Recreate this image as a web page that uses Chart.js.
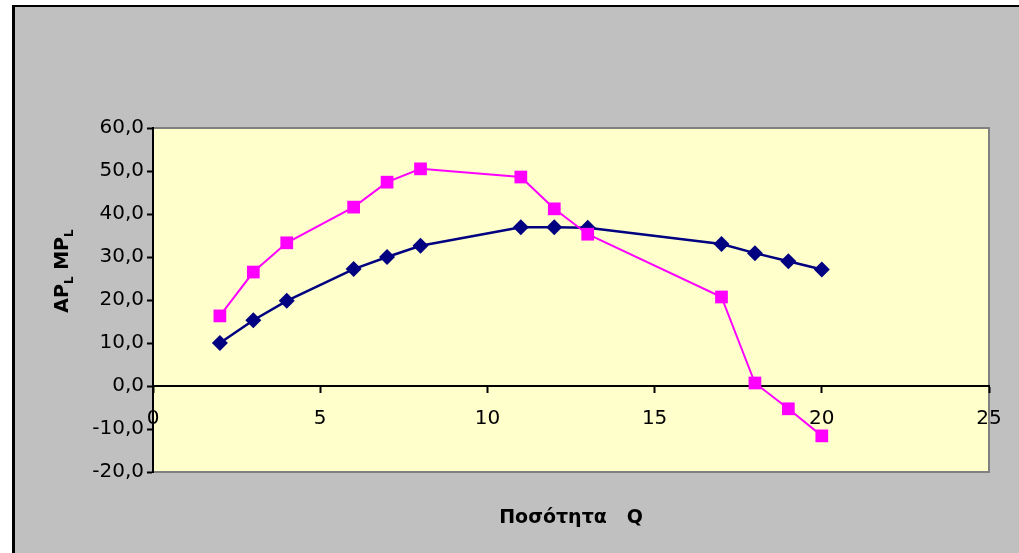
<!DOCTYPE html>
<html>
<head>
<meta charset="utf-8">
<title>AP / MP</title>
<script src="https://cdn.jsdelivr.net/npm/chart.js@4.4.1/dist/chart.umd.min.js"></script>
<style>
  html, body { margin: 0; padding: 0; background: #ffffff; }
  canvas { display: block; }
</style>
</head>
<body>
<canvas id="chart" width="1019" height="553"></canvas>
<script>
// Labour input (Q) and the product curves
const quantities = [2, 3, 4, 6, 7, 8, 11, 12, 13, 17, 18, 19, 20];
const apValues = [10.0, 15.3, 19.8, 27.2, 30.0, 32.6, 36.9, 36.9, 36.8, 33.0, 30.9, 29.0, 27.1];
const mpValues = [16.3, 26.5, 33.3, 41.6, 47.4, 50.5, 48.6, 41.2, 35.3, 20.7, 0.7, -5.3, -11.6];
const xTicks = [0, 5, 10, 15, 20, 25];
const yTicks = [-20, -10, 0, 10, 20, 30, 40, 50, 60];

const FONT = "'DejaVu Sans', 'Liberation Sans', Arial, sans-serif";

const toPoints = (vals) => quantities.map((q, i) => ({ x: q, y: vals[i] }));

// Frame, grey panel and yellow plot area, plus the axis titles
const framePlugin = {
  id: 'frame',
  beforeDraw(chart) {
    const { ctx, chartArea: a, width, height } = chart;
    ctx.save();
    ctx.fillStyle = '#ffffff';
    ctx.fillRect(0, 0, width, height);
    ctx.fillStyle = '#c0c0c0';
    ctx.fillRect(12, 5, width - 12, height - 5);
    ctx.fillStyle = '#000000';
    ctx.fillRect(12, 5, 3, height - 5);
    ctx.fillRect(12, 5, width - 12, 2);
    ctx.fillStyle = '#ffffcc';
    ctx.fillRect(a.left, a.top, a.right - a.left, a.bottom - a.top);
    ctx.strokeStyle = '#808080';
    ctx.lineWidth = 2;
    ctx.beginPath();
    ctx.moveTo(a.left, a.top);
    ctx.lineTo(a.right, a.top);
    ctx.lineTo(a.right, a.bottom);
    ctx.lineTo(a.left, a.bottom);
    ctx.stroke();
    ctx.restore();
  },
  afterDraw(chart) {
    const { ctx, chartArea: a } = chart;
    ctx.save();
    ctx.fillStyle = '#000000';
    // x axis title
    ctx.font = 'bold 19px ' + FONT;
    ctx.textAlign = 'center';
    ctx.textBaseline = 'alphabetic';
    ctx.fillText('Ποσότητα   Q', (a.left + a.right) / 2, 523);
    // rotated y axis title with subscripts
    const parts = [
      { t: 'AP', sub: false }, { t: 'L', sub: true },
      { t: ' MP', sub: false }, { t: 'L', sub: true }
    ];
    const mainFont = 'bold 19px ' + FONT;
    const subFont = 'bold 12px ' + FONT;
    let total = 0;
    parts.forEach(p => {
      ctx.font = p.sub ? subFont : mainFont;
      p.w = ctx.measureText(p.t).width;
      total += p.w;
    });
    ctx.translate(68, 271);
    ctx.rotate(-Math.PI / 2);
    ctx.textAlign = 'left';
    let x = -total / 2;
    parts.forEach(p => {
      ctx.font = p.sub ? subFont : mainFont;
      ctx.fillText(p.t, x, p.sub ? 5 : 0);
      x += p.w;
    });
    ctx.restore();
  }
};

new Chart(document.getElementById('chart'), {
  type: 'line',
  data: {
    datasets: [
      {
        label: 'MP',
        data: toPoints(mpValues),
        borderColor: '#ff00ff',
        backgroundColor: '#ff00ff',
        borderWidth: 2,
        pointStyle: 'rect',
        pointRadius: 9,
        pointBorderWidth: 0,
        tension: 0
      },
      {
        label: 'AP',
        data: toPoints(apValues),
        borderColor: '#000080',
        backgroundColor: '#000080',
        borderWidth: 2.5,
        pointStyle: 'rectRot',
        pointRadius: 8,
        pointBorderWidth: 0,
        tension: 0
      }
    ]
  },
  options: {
    responsive: false,
    animation: false,
    layout: { padding: { top: 128, right: 30, bottom: 81, left: 0 } },
    plugins: { legend: { display: false }, tooltip: { enabled: false } },
    scales: {
      x: {
        type: 'linear',
        position: { y: 0 },
        min: 0,
        max: 25,
        afterBuildTicks: (s) => { s.ticks = xTicks.map(v => ({ value: v })); },
        afterFit: (s) => { s.paddingLeft = 0; s.paddingRight = 0; },
        ticks: {
          autoSkip: false,
          maxRotation: 0,
          padding: 15,
          color: '#000000',
          font: { family: FONT, size: 20 }
        },
        grid: { drawOnChartArea: false, drawTicks: true, tickLength: 6, tickColor: '#000000', tickWidth: 2 },
        border: { display: true, color: '#000000', width: 2 }
      },
      y: {
        type: 'linear',
        position: 'left',
        min: -20,
        max: 60,
        afterBuildTicks: (s) => { s.ticks = yTicks.map(v => ({ value: v })); },
        afterFit: (s) => { s.width = 153; s.paddingTop = 0; s.paddingBottom = 0; },
        ticks: {
          autoSkip: false,
          padding: 3,
          color: '#000000',
          font: { family: FONT, size: 20 },
          callback: (v) => v.toFixed(1).replace('.', ',')
        },
        grid: { drawOnChartArea: false, drawTicks: true, tickLength: 6, tickColor: '#000000', tickWidth: 2 },
        border: { display: true, color: '#000000', width: 2 }
      }
    }
  },
  plugins: [framePlugin]
});
</script>
</body>
</html>
